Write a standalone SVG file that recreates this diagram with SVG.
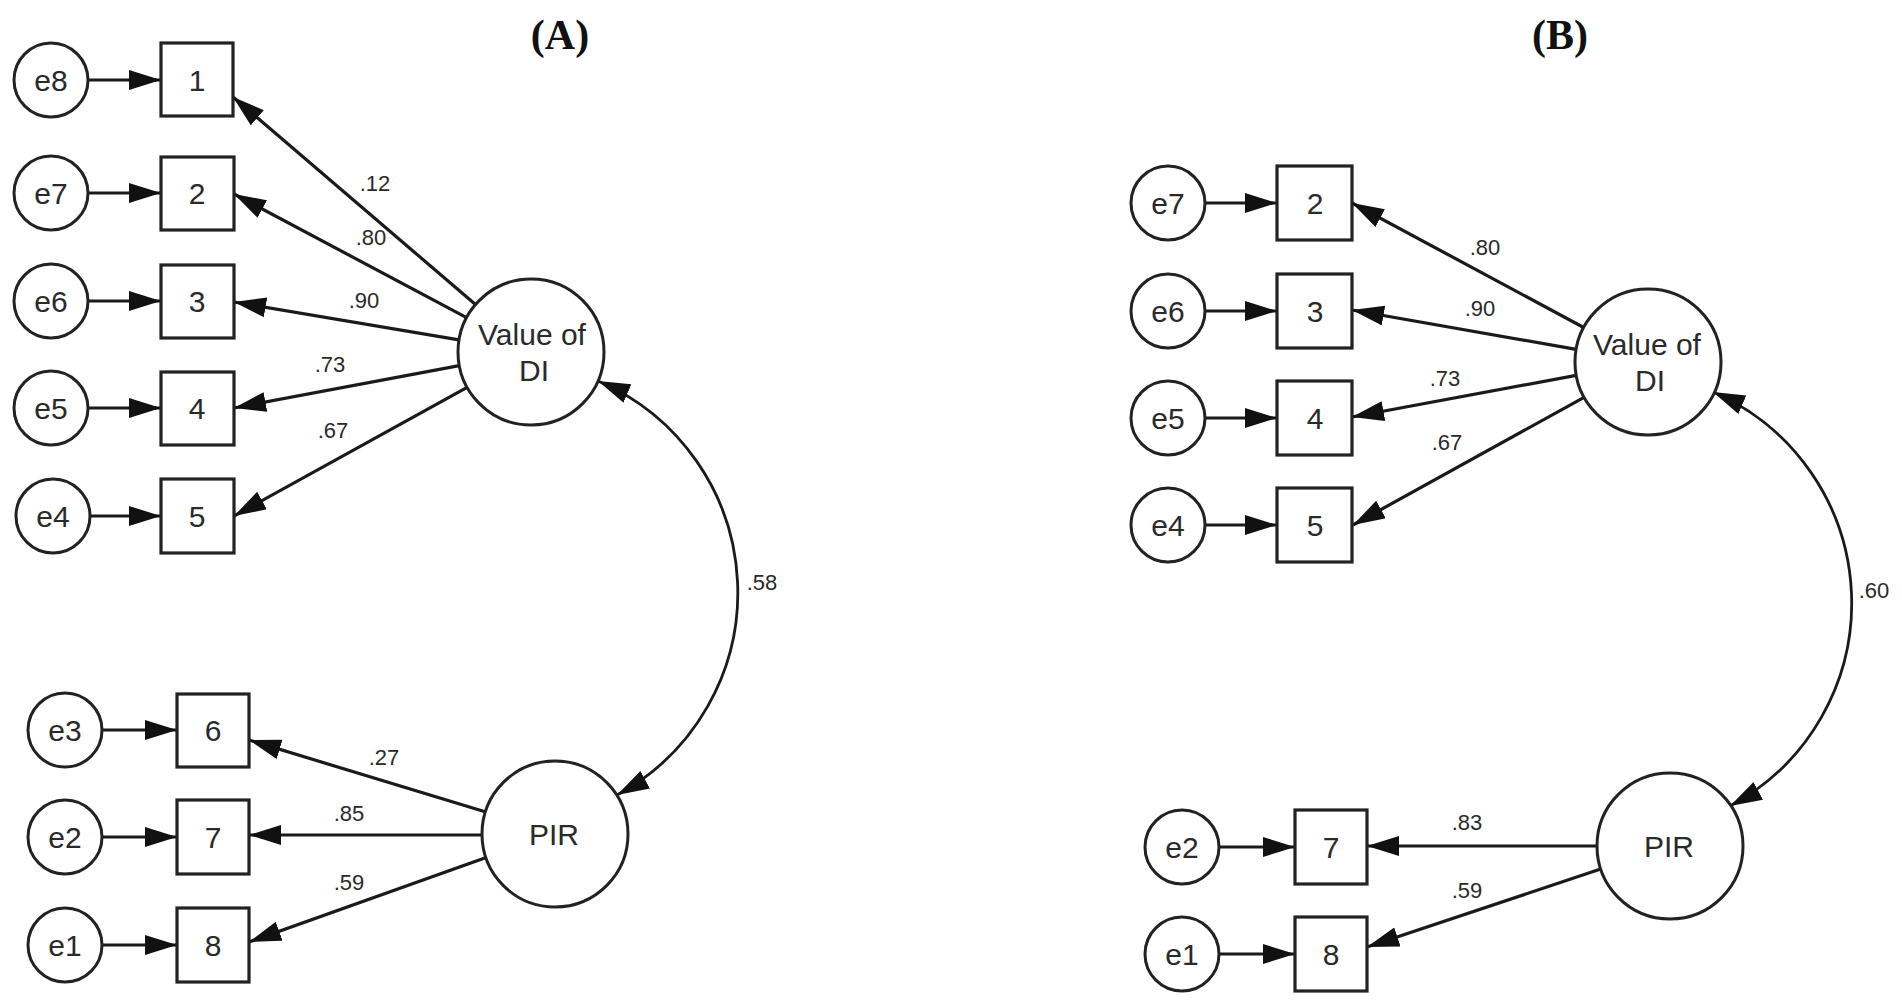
<svg xmlns="http://www.w3.org/2000/svg" width="1902" height="1006" viewBox="0 0 1902 1006">
<defs>
<style>
.bg{fill:#fff}
.err,.lat{fill:#fff;stroke:#222;stroke-width:3}
.obs{fill:#fff;stroke:#222;stroke-width:3.2}
.lbl{font-family:"Liberation Sans",Arial,sans-serif;font-size:30px;fill:#2a2a2a;text-anchor:middle}
.coef{font-family:"Liberation Sans",Arial,sans-serif;font-size:22px;fill:#2a2a2a;text-anchor:middle}
.title{font-family:"Liberation Serif","Times New Roman",serif;font-size:42px;font-weight:bold;fill:#111;text-anchor:middle}
.ln{stroke:#1a1a1a;stroke-width:3.2;fill:none;marker-end:url(#ah)}
.cv{stroke:#1a1a1a;stroke-width:2.8;fill:none;marker-end:url(#ah);marker-start:url(#ahs)}
</style>
<marker id="ah" markerUnits="userSpaceOnUse" markerWidth="34" markerHeight="22" refX="32" refY="10" orient="auto" viewBox="0 0 34 22">
<path d="M0,0 L32,10 L0,20 z" fill="#111"/>
</marker>
<marker id="ahs" markerUnits="userSpaceOnUse" markerWidth="34" markerHeight="22" refX="32" refY="10" orient="auto-start-reverse" viewBox="0 0 34 22">
<path d="M0,0 L32,10 L0,20 z" fill="#111"/>
</marker>
</defs>
<rect class="bg" x="0" y="0" width="1902" height="1006"/>

<text class="title" x="560" y="49">(A)</text>
<text class="title" x="1560" y="49">(B)</text>

<g id="connectors">
<line class="ln" x1="88" y1="80" x2="161" y2="80"/>
<line class="ln" x1="88" y1="193" x2="161" y2="193"/>
<line class="ln" x1="88" y1="301" x2="161" y2="301"/>
<line class="ln" x1="88" y1="408" x2="161" y2="408"/>
<line class="ln" x1="90" y1="516" x2="161" y2="516"/>
<line class="ln" x1="102" y1="730" x2="177" y2="730"/>
<line class="ln" x1="102" y1="837" x2="177" y2="837"/>
<line class="ln" x1="102" y1="945" x2="177" y2="945"/>
<line class="ln" x1="475.5" y1="304.5" x2="233" y2="97"/>
<line class="ln" x1="466.6" y1="317.6" x2="234" y2="194"/>
<line class="ln" x1="459" y1="339.8" x2="234" y2="302"/>
<line class="ln" x1="459.3" y1="365.6" x2="234" y2="408"/>
<line class="ln" x1="467.1" y1="387.4" x2="234" y2="516"/>
<line class="ln" x1="485.1" y1="811.8" x2="249" y2="740"/>
<line class="ln" x1="482" y1="835" x2="249" y2="835"/>
<line class="ln" x1="486.2" y1="857.6" x2="249" y2="942"/>
<path class="cv" d="M598,381 A230,230 0 0 1 617,795"/>
<line class="ln" x1="1205" y1="203" x2="1277" y2="203"/>
<line class="ln" x1="1205" y1="311" x2="1277" y2="311"/>
<line class="ln" x1="1205" y1="418" x2="1277" y2="418"/>
<line class="ln" x1="1205" y1="525" x2="1277" y2="525"/>
<line class="ln" x1="1219" y1="847" x2="1295" y2="847"/>
<line class="ln" x1="1219" y1="954" x2="1295" y2="954"/>
<line class="ln" x1="1583.7" y1="327.5" x2="1352" y2="203"/>
<line class="ln" x1="1576.1" y1="349.4" x2="1352" y2="310"/>
<line class="ln" x1="1576.2" y1="375.4" x2="1352" y2="417"/>
<line class="ln" x1="1584.1" y1="397.3" x2="1353" y2="525"/>
<line class="ln" x1="1597" y1="846" x2="1367" y2="846"/>
<line class="ln" x1="1600.7" y1="869.1" x2="1367" y2="947"/>
<path class="cv" d="M1713,392 A230,230 0 0 1 1730,806"/>
</g>

<g id="coefficients">
<text class="coef" x="375" y="191">.12</text>
<text class="coef" x="371" y="245">.80</text>
<text class="coef" x="364" y="308">.90</text>
<text class="coef" x="330" y="372">.73</text>
<text class="coef" x="333" y="438">.67</text>
<text class="coef" x="384" y="765">.27</text>
<text class="coef" x="349" y="821">.85</text>
<text class="coef" x="349" y="890">.59</text>
<text class="coef" x="762" y="590">.58</text>
<text class="coef" x="1485" y="255">.80</text>
<text class="coef" x="1480" y="316">.90</text>
<text class="coef" x="1445" y="386">.73</text>
<text class="coef" x="1447" y="450">.67</text>
<text class="coef" x="1467" y="830">.83</text>
<text class="coef" x="1467" y="898">.59</text>
<text class="coef" x="1874" y="598">.60</text>
</g>

<g id="A_e8"><circle class="err" cx="51" cy="80" r="37"/><text class="lbl" x="51" y="91">e8</text></g>
<g id="A_e7"><circle class="err" cx="51" cy="193" r="37"/><text class="lbl" x="51" y="204">e7</text></g>
<g id="A_e6"><circle class="err" cx="51" cy="301" r="37"/><text class="lbl" x="51" y="312">e6</text></g>
<g id="A_e5"><circle class="err" cx="51" cy="408" r="37"/><text class="lbl" x="51" y="419">e5</text></g>
<g id="A_e4"><circle class="err" cx="53" cy="516" r="37"/><text class="lbl" x="53" y="527">e4</text></g>
<g id="A_e3"><circle class="err" cx="65" cy="730" r="37"/><text class="lbl" x="65" y="741">e3</text></g>
<g id="A_e2"><circle class="err" cx="65" cy="837" r="37"/><text class="lbl" x="65" y="848">e2</text></g>
<g id="A_e1"><circle class="err" cx="65" cy="945" r="37"/><text class="lbl" x="65" y="956">e1</text></g>

<g id="A_1"><rect class="obs" x="161" y="43" width="72" height="73"/><text class="lbl" x="197" y="91">1</text></g>
<g id="A_2"><rect class="obs" x="161" y="157" width="73" height="73"/><text class="lbl" x="197" y="204">2</text></g>
<g id="A_3"><rect class="obs" x="161" y="265" width="73" height="73"/><text class="lbl" x="197" y="312">3</text></g>
<g id="A_4"><rect class="obs" x="161" y="372" width="73" height="73"/><text class="lbl" x="197" y="419">4</text></g>
<g id="A_5"><rect class="obs" x="161" y="479" width="73" height="74"/><text class="lbl" x="197" y="527">5</text></g>
<g id="A_6"><rect class="obs" x="177" y="694" width="72" height="73"/><text class="lbl" x="213" y="741">6</text></g>
<g id="A_7"><rect class="obs" x="177" y="800" width="72" height="74"/><text class="lbl" x="213" y="848">7</text></g>
<g id="A_8"><rect class="obs" x="177" y="908" width="72" height="74"/><text class="lbl" x="213" y="956">8</text></g>

<g id="A_DI"><circle class="lat" cx="531" cy="352" r="73"/><text class="lbl" x="532" y="345">Value of</text><text class="lbl" x="534" y="381">DI</text></g>
<g id="A_PIR"><circle class="lat" cx="555" cy="834" r="73"/><text class="lbl" x="554" y="845">PIR</text></g>

<g id="B_e7"><circle class="err" cx="1168" cy="203" r="37"/><text class="lbl" x="1168" y="214">e7</text></g>
<g id="B_e6"><circle class="err" cx="1168" cy="311" r="37"/><text class="lbl" x="1168" y="322">e6</text></g>
<g id="B_e5"><circle class="err" cx="1168" cy="418" r="37"/><text class="lbl" x="1168" y="429">e5</text></g>
<g id="B_e4"><circle class="err" cx="1168" cy="525" r="37"/><text class="lbl" x="1168" y="536">e4</text></g>
<g id="B_e2"><circle class="err" cx="1182" cy="847" r="37"/><text class="lbl" x="1182" y="858">e2</text></g>
<g id="B_e1"><circle class="err" cx="1182" cy="954" r="37"/><text class="lbl" x="1182" y="965">e1</text></g>

<g id="B_2"><rect class="obs" x="1277" y="166" width="75" height="74"/><text class="lbl" x="1315" y="214">2</text></g>
<g id="B_3"><rect class="obs" x="1277" y="274" width="75" height="74"/><text class="lbl" x="1315" y="322">3</text></g>
<g id="B_4"><rect class="obs" x="1277" y="381" width="75" height="74"/><text class="lbl" x="1315" y="429">4</text></g>
<g id="B_5"><rect class="obs" x="1277" y="488" width="75" height="74"/><text class="lbl" x="1315" y="536">5</text></g>
<g id="B_7"><rect class="obs" x="1295" y="810" width="72" height="74"/><text class="lbl" x="1331" y="858">7</text></g>
<g id="B_8"><rect class="obs" x="1295" y="917" width="72" height="74"/><text class="lbl" x="1331" y="965">8</text></g>

<g id="B_DI"><circle class="lat" cx="1648" cy="362" r="73"/><text class="lbl" x="1647" y="355">Value of</text><text class="lbl" x="1650" y="391">DI</text></g>
<g id="B_PIR"><circle class="lat" cx="1670" cy="846" r="73"/><text class="lbl" x="1669" y="857">PIR</text></g>
</svg>
